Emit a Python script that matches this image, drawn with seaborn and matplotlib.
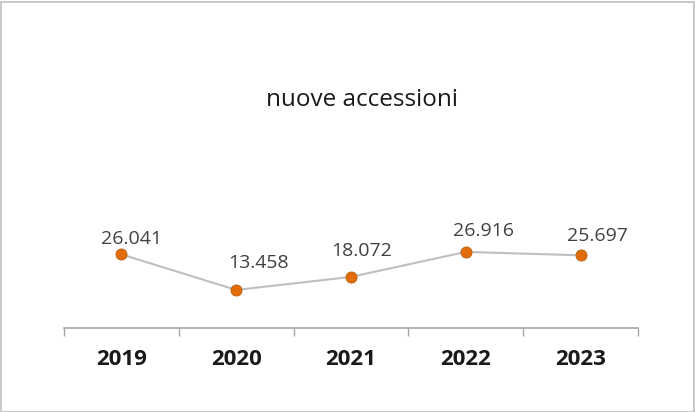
import matplotlib
matplotlib.use("Agg")
import matplotlib.pyplot as plt
import seaborn as sns
import pandas as pd
from matplotlib.ticker import FixedLocator
from matplotlib.patches import Rectangle

years = ["2019", "2020", "2021", "2022", "2023"]
values = [26041, 13458, 18072, 26916, 25697]
labels = ["26.041", "13.458", "18.072", "26.916", "25.697"]
title = "nuove accessioni"

# layout: label offsets (pixels right, pixels up) from each marker
label_dx = [10, 22, 11, 18, 17]
label_dy = [15, 27, 26, 21, 19]

sns.set_theme(style="white")
plt.rcParams['font.family'] = ['Open Sans', 'DejaVu Sans']

df = pd.DataFrame({"anno": years, "valore": values})
df["pos"] = range(len(years))

fig = plt.figure(figsize=(6.95, 4.12), dpi=100)
ax = fig.add_axes([64/695, 84/412, 574/695, 172.5/412])

sns.lineplot(data=df, x="pos", y="valore", ax=ax, color="#BFBFBF", linewidth=1.5,
             marker="o", markersize=8, markerfacecolor="#E36C0A",
             markeredgecolor="#B8600F", markeredgewidth=0.6, zorder=3)

for x, y, t, dx, dy in zip(df["pos"], df["valore"], labels, label_dx, label_dy):
    ax.annotate(t, (x, y), xytext=(dx * 0.72, dy * 0.72), textcoords="offset points",
                ha="center", va="center", fontsize=14, color="#404040")

ax.set_xlim(-0.5, len(years) - 0.5)
ax.set_ylim(0, 61000)
ax.set_xticks(range(len(years)))
ax.set_xticklabels(years, fontsize=16, fontweight="bold", color="#1a1a1a")
ax.xaxis.set_minor_locator(FixedLocator([i - 0.5 for i in range(len(years) + 1)]))
ax.tick_params(axis="x", which="major", length=0, pad=15)
ax.tick_params(axis="x", which="minor", length=6, width=1, color="#A6A6A6", bottom=True)
ax.set_yticks([])
ax.set_xlabel("")
ax.set_ylabel("")
for s in ["top", "right", "left"]:
    ax.spines[s].set_visible(False)
ax.spines["bottom"].set_color("#A6A6A6")
ax.spines["bottom"].set_linewidth(1.2)
ax.patch.set_alpha(0)

fig.text(362/695, 1 - 100/412, title, ha="center", va="center", fontsize=17.5, color="#1a1a1a")

fig.patches.append(Rectangle((0.5/695, 0.5/412), 693/695, 410/412, transform=fig.transFigure,
                             fill=False, edgecolor="#BFBFBF", linewidth=1.2))

fig.savefig("out.png", dpi=100, facecolor="white")
